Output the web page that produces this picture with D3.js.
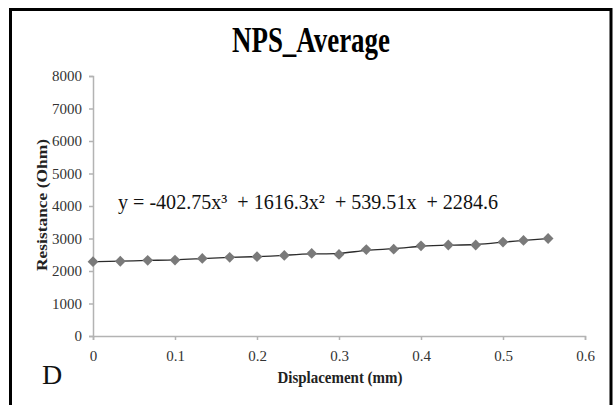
<!DOCTYPE html>
<html>
<head>
<meta charset="utf-8">
<script src="https://cdn.jsdelivr.net/npm/d3@7"></script>
<style>
  body { margin: 0; background: #fff; }
  svg { display: block; }
  text { font-family: "Liberation Serif", "Times New Roman", serif; }
</style>
</head>
<body>
<div id="chart"></div>
<script>
// values
const displacement = [0, 0.0333, 0.0667, 0.1, 0.1333, 0.1667, 0.2, 0.2333, 0.2667,
  0.3, 0.3333, 0.3667, 0.4, 0.4333, 0.4667, 0.5, 0.525, 0.555]
const resistance = [2286, 2300, 2330, 2335, 2385, 2420, 2440, 2480, 2540,
  2510, 2660, 2670, 2775, 2800, 2800, 2890, 2940, 3000]
const xTicks = [0, 0.1, 0.2, 0.3, 0.4, 0.5, 0.6]
const yTicks = [0, 1000, 2000, 3000, 4000, 5000, 6000, 7000, 8000]
const titleText = "NPS_Average"
const equationText = "y = -402.75x³  + 1616.3x²  + 539.51x  + 2284.6"
const panelLetter = "D"

const W = 614, H = 405
const margin = { top: 76, right: 29, bottom: 69, left: 93 }
const width = W - margin.left - margin.right
const height = H - margin.top - margin.bottom

const svg = d3.select("#chart").append("svg")
    .attr("width", W)
    .attr("height", H)

// frame (bottom edge is cut off in the picture)
svg.append("path")
    .attr("d", `M10.5,${H} V9.5 H611 V${H}`)
    .attr("fill", "none")
    .attr("stroke", "#000")
    .attr("stroke-width", 3)

const g = svg.append("g")
    .attr("transform", `translate(${margin.left},${margin.top})`)

const x = d3.scaleLinear().domain([0, 0.6]).range([0, width])
const y = d3.scaleLinear().domain([0, 8000]).range([height, 0])

// x axis
const xAxis = g.append("g")
    .attr("transform", `translate(0,${height})`)
    .call(d3.axisBottom(x).tickValues(xTicks).tickSize(4).tickPadding(10)
        .tickFormat(d => d === 0 ? "0" : d3.format(".1f")(d)))
xAxis.select(".domain").attr("stroke", "#b3b3b3").attr("stroke-width", 1.5)
xAxis.selectAll(".tick line").attr("stroke", "#b3b3b3").attr("stroke-width", 1.5)
xAxis.selectAll(".tick text")
    .attr("font-family", "Liberation Serif")
    .attr("font-size", 15)
    .attr("fill", "#333")

// y axis
const yAxis = g.append("g")
    .call(d3.axisLeft(y).tickValues(yTicks).tickSize(4).tickPadding(7)
        .tickFormat(d3.format("d")))
yAxis.select(".domain").attr("stroke", "#b3b3b3").attr("stroke-width", 1.5)
yAxis.selectAll(".tick line").attr("stroke", "#b3b3b3").attr("stroke-width", 1.5)
yAxis.selectAll(".tick text")
    .attr("font-family", "Liberation Serif")
    .attr("font-size", 15)
    .attr("fill", "#333")

const points = displacement.map((d, i) => ({ x: d, y: resistance[i] }))

// trend line through the points
g.append("path")
    .datum(points)
    .attr("fill", "none")
    .attr("stroke", "#2b2b2b")
    .attr("stroke-width", 1.3)
    .attr("d", d3.line()
        .curve(d3.curveBasis)
        .x(d => x(d.x))
        .y(d => y(d.y)))

// diamond markers
g.selectAll(".marker")
    .data(points)
    .join("path")
    .attr("class", "marker")
    .attr("d", d3.symbol(d3.symbolSquare, 58))
    .attr("transform", d => `translate(${x(d.x)},${y(d.y)}) rotate(45)`)
    .attr("fill", "#7a7a7a")

// equation
svg.append("text")
    .attr("x", 118)
    .attr("y", 209)
    .attr("font-size", 21)
    .attr("textLength", 380)
    .attr("lengthAdjust", "spacingAndGlyphs")
    .style("white-space", "pre")
    .attr("fill", "#111")
    .text(equationText)

// title
svg.append("text")
    .attr("x", 311)
    .attr("y", 52)
    .attr("text-anchor", "middle")
    .attr("font-size", 36)
    .attr("font-weight", "bold")
    .attr("textLength", 158)
    .attr("lengthAdjust", "spacingAndGlyphs")
    .attr("fill", "#000")
    .text(titleText)

// axis titles
svg.append("text")
    .attr("transform", "translate(47,205) rotate(-90)")
    .attr("text-anchor", "middle")
    .attr("font-size", 15)
    .attr("font-weight", "bold")
    .attr("textLength", 132)
    .attr("lengthAdjust", "spacingAndGlyphs")
    .attr("fill", "#222")
    .text("Resistance (Ohm)")

svg.append("text")
    .attr("x", 340)
    .attr("y", 383)
    .attr("text-anchor", "middle")
    .attr("font-size", 16)
    .attr("font-weight", "bold")
    .attr("textLength", 125)
    .attr("lengthAdjust", "spacingAndGlyphs")
    .attr("fill", "#222")
    .text("Displacement (mm)")

// panel letter
svg.append("text")
    .attr("x", 42)
    .attr("y", 384)
    .attr("font-size", 28)
    .attr("fill", "#111")
    .text(panelLetter)
</script>
</body>
</html>
